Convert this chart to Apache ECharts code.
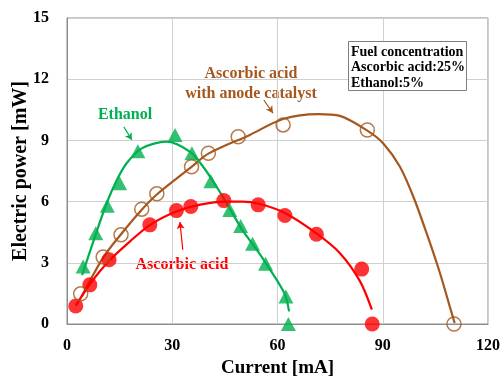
<!DOCTYPE html>
<html><head><meta charset="utf-8">
<script src="https://cdn.jsdelivr.net/npm/echarts@6/dist/echarts.min.js"></script>
<style>html,body{margin:0;padding:0;background:#fff}#c{width:500px;height:376px}</style>
</head><body><div id="c"></div>
<script>
// Measured points (current mA, power mW)
var ascorbicX = [2.5, 6.5, 12.0, 23.6, 31.2, 35.3, 44.7, 54.5, 62.1, 71.1, 84.0, 87.0];
var ascorbicY = [0.88, 1.92, 3.15, 4.86, 5.56, 5.76, 6.05, 5.84, 5.32, 4.40, 2.69, 0.0];
var ethanolX = [4.6, 8.2, 11.5, 15.0, 20.2, 30.8, 35.6, 41.0, 46.4, 49.5, 52.9, 56.6, 62.4, 63.1];
var ethanolY = [2.82, 4.45, 5.8, 6.9, 8.47, 9.27, 8.37, 7.0, 5.59, 4.81, 3.93, 2.95, 1.35, 0.0];
var catalystX = [3.9, 10.3, 15.4, 21.3, 25.6, 35.5, 40.3, 48.8, 61.6, 85.6, 110.3];
var catalystY = [1.48, 3.28, 4.37, 5.63, 6.38, 7.71, 8.37, 9.18, 9.76, 9.51, 0.0];
// Fitted trend curves
var ascorbicFitX = [2.5, 6.5, 12, 17.9, 23.6, 31, 38, 45, 50, 55, 62, 71, 77.8, 83.5, 86.9];
var ascorbicFitY = [0.9, 1.95, 3.1, 4.04, 4.85, 5.5, 5.85, 6.0, 6.0, 5.88, 5.45, 4.45, 3.47, 2.1, 0.7];
var ethanolFitX = [4.3, 8, 11.3, 14.2, 17.0, 21.3, 28.4, 35.0, 38.8, 42.6, 45.5, 50, 53, 57, 62, 63.3];
var ethanolFitY = [2.4, 4.3, 5.92, 7.06, 7.88, 8.61, 8.94, 8.45, 7.71, 6.74, 5.92, 4.6, 3.9, 2.9, 1.5, 0.62];
var catalystFitX = [4.2, 10.3, 15.4, 21.3, 25.6, 35.5, 40.3, 52.1, 61.6, 71.6, 77.8, 85.6, 90.1, 94.9, 98.7, 102.5, 106.3, 109.1, 110.5];
var catalystFitY = [1.35, 3.25, 4.4, 5.6, 6.35, 7.7, 8.35, 9.27, 10.05, 10.29, 10.2, 9.48, 8.86, 7.71, 6.25, 4.45, 2.5, 0.86, 0.05];
var xTicks = [0, 30, 60, 90, 120];
var yTicks = [0, 3, 6, 9, 12, 15];
var boxLines = ['Fuel concentration', 'Ascorbic acid:25%', 'Ethanol:5%'];

function zip(a, b) { return a.map(function (v, i) { return [v, b[i]]; }); }

var RED = '#ff0000', GREEN = '#00b050', BROWN = '#a5571e';
var FONT = '"Liberation Serif", "Times New Roman", serif';

var chart = echarts.init(document.getElementById('c'));
chart.setOption({
  animation: false,
  backgroundColor: '#fff',
  grid: { left: 67, right: 12, top: 18, bottom: 52, show: true, borderColor: '#8c8c8c', borderWidth: 1, containLabel: false, outerBoundsMode: 'none' },
  xAxis: {
    type: 'value', min: xTicks[0], max: xTicks[xTicks.length - 1], interval: 30,
    name: 'Current [mA]', nameLocation: 'middle', nameGap: 32,
    nameTextStyle: { fontFamily: FONT, fontWeight: 'bold', fontSize: 19, color: '#000' },
    axisLine: { lineStyle: { color: '#8c8c8c' } }, axisTick: { show: false },
    axisLabel: { fontFamily: FONT, fontWeight: 'bold', fontSize: 16, color: '#000', margin: 14 },
    splitLine: { lineStyle: { color: '#d0d0d0' } }
  },
  yAxis: {
    type: 'value', min: yTicks[0], max: yTicks[yTicks.length - 1], interval: 3,
    name: 'Electric power [mW]', nameLocation: 'middle', nameGap: 46, nameMoveOverlap: false,
    nameTextStyle: { fontFamily: FONT, fontWeight: 'bold', fontSize: 20, color: '#000', verticalAlign: 'middle' },
    axisLine: { show: true, lineStyle: { color: '#8c8c8c' } }, axisTick: { show: false },
    axisLabel: { fontFamily: FONT, fontWeight: 'bold', fontSize: 16, color: '#000', margin: 18 },
    splitLine: { lineStyle: { color: '#d0d0d0' } }
  },
  series: [
    { type: 'line', data: zip(catalystFitX, catalystFitY), smooth: 0.3, showSymbol: false, lineStyle: { color: BROWN, width: 2.2 }, z: 2,
      markLine: { silent: true, symbol: ['none', 'arrow'], symbolSize: [6, 7], label: { show: false }, lineStyle: { color: BROWN, width: 1.2, type: 'solid' },
        data: [[{ coord: [56.1, 10.98] }, { coord: [58.7, 10.34] }]] } },
    { type: 'line', data: zip(ethanolFitX, ethanolFitY), smooth: 0.3, showSymbol: false, lineStyle: { color: GREEN, width: 2.2 }, z: 2,
      markLine: { silent: true, symbol: ['none', 'arrow'], symbolSize: [6, 7], label: { show: false }, lineStyle: { color: GREEN, width: 1.2, type: 'solid' },
        data: [[{ coord: [16.2, 9.66] }, { coord: [18.5, 9.02] }]] } },
    { type: 'line', data: zip(ascorbicFitX, ascorbicFitY), smooth: 0.3, showSymbol: false, lineStyle: { color: RED, width: 2.2 }, z: 2,
      markLine: { silent: true, symbol: ['none', 'arrow'], symbolSize: [6, 7], label: { show: false }, lineStyle: { color: RED, width: 1.2, type: 'solid' },
        data: [[{ coord: [33.0, 3.64] }, { coord: [32.2, 5.0] }]] } },
    { type: 'scatter', data: zip(ascorbicX, ascorbicY), symbol: 'circle', symbolSize: 15, itemStyle: { color: RED }, z: 3 },
    { type: 'scatter', data: zip(ethanolX, ethanolY), symbol: 'triangle', symbolSize: [15, 14], itemStyle: { color: GREEN }, z: 3 },
    { type: 'scatter', data: zip(catalystX, catalystY), symbol: 'circle', symbolSize: 14, itemStyle: { color: 'rgba(255,255,255,0)', borderColor: BROWN, borderWidth: 1.5 }, z: 4 }
  ],
  graphic: [
    { type: 'text', x: 251, y: 64, style: { text: 'Ascorbic acid\nwith anode catalyst', fill: BROWN, font: 'bold 16px ' + FONT, textAlign: 'center', lineHeight: 20 } },
    { type: 'text', x: 125, y: 115, style: { text: 'Ethanol', fill: GREEN, font: 'bold 16px ' + FONT, textAlign: 'center', textVerticalAlign: 'middle' } },
    { type: 'text', x: 182, y: 265, style: { text: 'Ascorbic acid', fill: RED, font: 'bold 16px ' + FONT, textAlign: 'center', textVerticalAlign: 'middle' } },
    { type: 'rect', shape: { x: 348.5, y: 41.5, width: 118, height: 49 }, style: { fill: '#fff', stroke: '#7f7f7f', lineWidth: 1 }, z: 10 },
    { type: 'text', x: 351, y: 44.5, z: 11, style: { text: boxLines.join('\n'), fill: '#000', font: 'bold 14px ' + FONT, lineHeight: 15.5 } }
  ]
});
</script></body></html>
